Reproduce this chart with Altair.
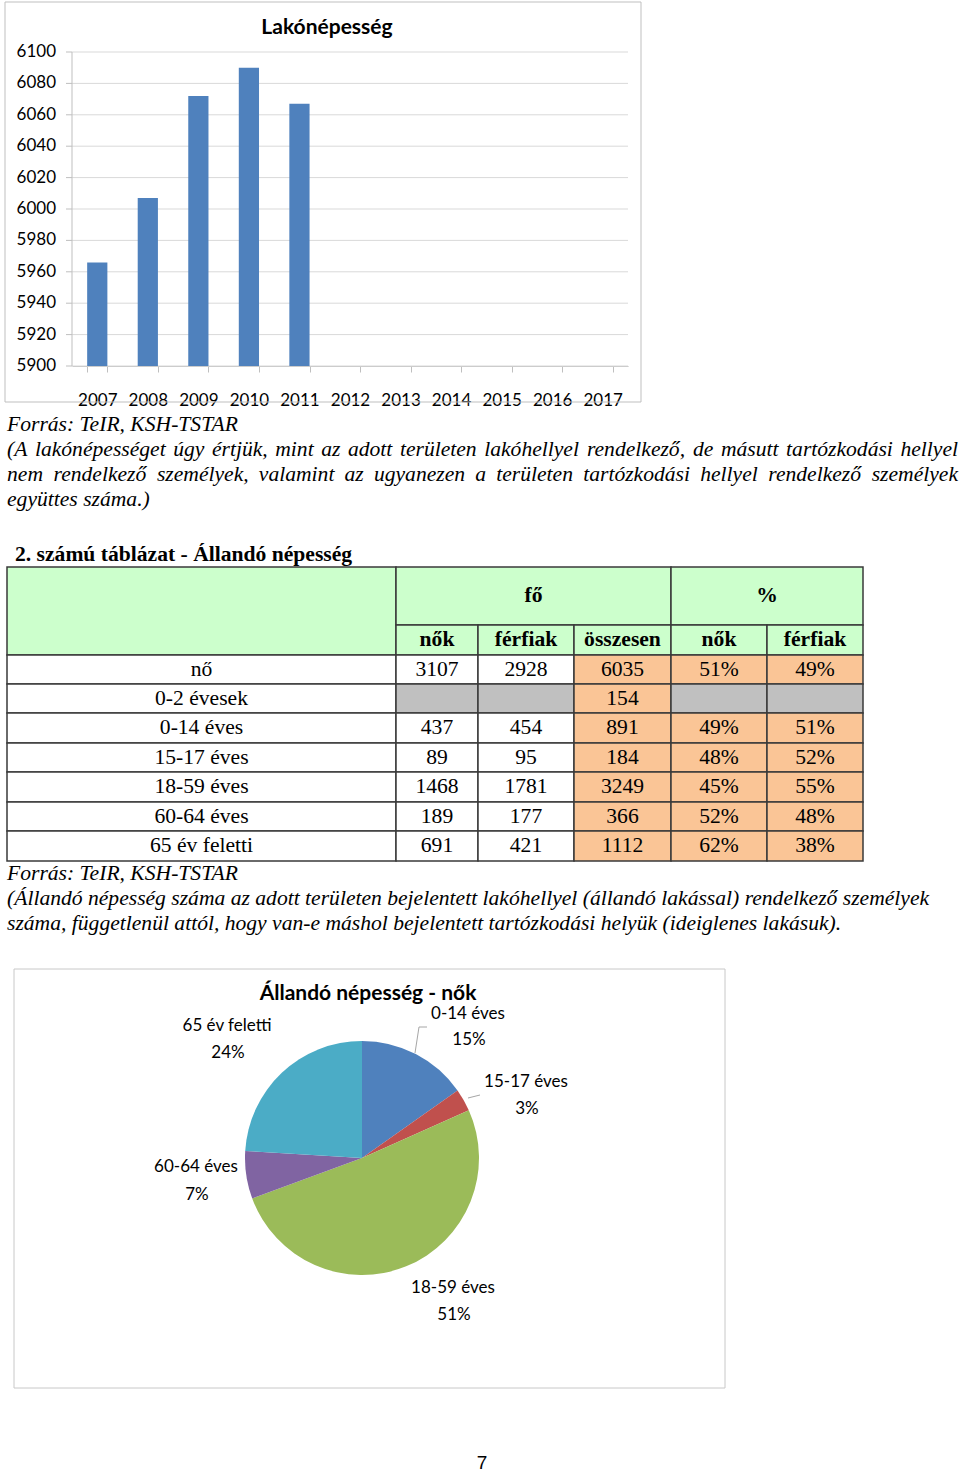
import altair as alt
import pandas as pd

# ---------------- data ----------------
years = ["2007", "2008", "2009", "2010", "2011", "2012", "2013", "2014", "2015", "2016", "2017"]
lako_years = ["2007", "2008", "2009", "2010", "2011"]
lako_values = [5966, 6007, 6072, 6090, 6067]
y_ticks = [5900, 5920, 5940, 5960, 5980, 6000, 6020, 6040, 6060, 6080, 6100]

table_rows = ["nő", "0-2 évesek", "0-14 éves", "15-17 éves", "18-59 éves", "60-64 éves", "65 év feletti"]
nok = [3107, None, 437, 89, 1468, 189, 691]
ferfiak = [2928, None, 454, 95, 1781, 177, 421]
osszesen = [6035, 154, 891, 184, 3249, 366, 1112]
nok_pct = [51, None, 49, 48, 45, 52, 62]
ferfiak_pct = [49, None, 51, 52, 55, 48, 38]
head_top = ["fő", "%"]
head_sub = ["nők", "férfiak", "összesen", "nők", "férfiak"]

pie_groups = ["0-14 éves", "15-17 éves", "18-59 éves", "60-64 éves", "65 év feletti"]
pie_values = [437, 89, 1468, 189, 691]
pie_colors = ["#4F81BD", "#C0504D", "#9BBB59", "#8064A2", "#4BACC6"]

bar_title = "Lakónépesség"
source_text = "Forrás: TeIR, KSH-TSTAR"
note1_lines = [
    "(A lakónépességet úgy értjük, mint az adott területen lakóhellyel rendelkező, de másutt tartózkodási hellyel",
    "nem rendelkező személyek, valamint az ugyanezen a területen tartózkodási hellyel rendelkező személyek",
    "együttes száma.)",
]
table_title = "2. számú táblázat - Állandó népesség"
note2_lines = [
    "(Állandó népesség száma az adott területen bejelentett lakóhellyel (állandó lakással) rendelkező személyek",
    "száma, függetlenül attól, hogy van-e máshol bejelentett tartózkodási helyük (ideiglenes lakásuk).",
]
pie_title = "Állandó népesség - nők"
page_number = "7"

# ---------------- layout / style ----------------
W, H = 960, 1472
SERIF = "Liberation Serif"
SANS = "Lato"
SZ = 21.6
GRAY = "#BFBFBF"

BAR_X = [72, 628]
BAR_Y = [366, 52]
COL_EDGES = [7, 396, 478, 574, 671, 767, 863]
ROW_EDGES = [567, 625, 655, 684, 713, 743, 772, 802, 831, 861]
PIE_CENTER = (362, 1158)
PIE_R = 117

# Times italic advance widths (per 1000 em) for justification
TI = {' ': 250, '(': 333, ')': 333, ',': 250, '-': 333, '.': 250, ':': 333,
      'A': 611, 'B': 611, 'C': 667, 'D': 722, 'E': 611, 'F': 611, 'G': 722, 'H': 722, 'I': 333,
      'J': 444, 'K': 667, 'L': 556, 'M': 833, 'N': 667, 'O': 722, 'P': 611, 'Q': 722, 'R': 611,
      'S': 500, 'T': 556, 'U': 722, 'V': 611, 'W': 833, 'X': 611, 'Y': 556, 'Z': 556,
      'a': 500, 'b': 500, 'c': 444, 'd': 500, 'e': 444, 'f': 278, 'g': 500, 'h': 500, 'i': 278,
      'j': 278, 'k': 444, 'l': 278, 'm': 722, 'n': 500, 'o': 500, 'p': 500, 'q': 500, 'r': 389,
      's': 389, 't': 278, 'u': 500, 'v': 444, 'w': 667, 'x': 444, 'y': 444, 'z': 389}
ACC = {'á': 'a', 'é': 'e', 'í': 'i', 'ó': 'o', 'ö': 'o', 'ő': 'o', 'ú': 'u', 'ü': 'u', 'ű': 'u',
       'Á': 'A', 'É': 'E', 'Ó': 'O', 'Ö': 'O', 'Ő': 'O', 'Ú': 'U', 'Ü': 'U', 'Ű': 'U', 'Í': 'I'}


def tw(s, size):
    return sum(TI.get(ACC.get(ch, ch), 500) for ch in s) * size / 1000.0


def justify(line, x0, x1, y, size):
    words = line.split(" ")
    widths = [tw(w, size) for w in words]
    gap = (x1 - x0 - sum(widths)) / (len(words) - 1)
    out, x = [], x0
    for w, wd in zip(words, widths):
        out.append((w, x + wd / 2.0, y))
        x += wd + gap
    return out


def text_layer(items, font, size, weight="normal", style="normal", align="center", color="#000000"):
    df = pd.DataFrame(items, columns=["t", "x", "y"])
    return alt.Chart(df).mark_text(
        font=font, fontSize=size, fontWeight=weight, fontStyle=style,
        align=align, baseline="middle", color=color
    ).encode(
        x=alt.X("x:Q", scale=None, axis=None),
        y=alt.Y("y:Q", scale=None, axis=None),
        text=alt.Text("t:N"),
    )


def frame(x0, y0, x1, y1, color):
    return alt.Chart(pd.DataFrame({"k": [0]})).mark_rect(
        filled=False, color=color, strokeWidth=1
    ).encode(x=alt.value(x0), x2=alt.value(x1), y=alt.value(y0), y2=alt.value(y1))


def seg(x0, y0, x1, y1, color):
    return alt.Chart(pd.DataFrame({"k": [0]})).mark_rule(color=color, strokeWidth=1).encode(
        x=alt.value(x0), x2=alt.value(x1), y=alt.value(y0), y2=alt.value(y1))


# ---------------- bar chart ----------------
xs = alt.Scale(domain=years, range=BAR_X, paddingInner=0.6, paddingOuter=0.3)
ys = alt.Scale(domain=[y_ticks[0], y_ticks[-1]], range=BAR_Y, nice=False, zero=False)
x_axis = alt.Axis(orient="bottom", offset=-(H - BAR_Y[0]), title=None, labelAngle=0,
                  labelFont=SANS, labelFontSize=17, labelColor="#000000", labelPadding=20,
                  tickBand="extent", tickSize=6, tickColor=GRAY, domainColor=GRAY,
                  grid=False, labelOverlap=False)

tick_df = pd.DataFrame({"v": y_ticks})
grid = alt.Chart(tick_df).mark_rule(color="#D9D9D9", strokeWidth=1).encode(
    y=alt.Y("v:Q", scale=ys, axis=None),
    x=alt.value(BAR_X[0]), x2=alt.value(BAR_X[1]),
)
y_ticks_marks = alt.Chart(tick_df).mark_rule(color=GRAY, strokeWidth=1).encode(
    y=alt.Y("v:Q", scale=ys, axis=None),
    x=alt.value(BAR_X[0] - 6), x2=alt.value(BAR_X[0]),
)
y_domain = alt.Chart(pd.DataFrame({"lo": [y_ticks[0]], "hi": [y_ticks[-1]]})).mark_rule(
    color=GRAY, strokeWidth=1
).encode(
    y=alt.Y("lo:Q", scale=ys, axis=None), y2="hi:Q", x=alt.value(BAR_X[0]),
)
y_labels = alt.Chart(tick_df).mark_text(
    font=SANS, fontSize=17, align="right", baseline="middle", color="#000000"
).encode(
    y=alt.Y("v:Q", scale=ys, axis=None),
    x=alt.value(BAR_X[0] - 16),
    text=alt.Text("v:Q", format="d"),
)
bars = alt.Chart(pd.DataFrame({"year": lako_years, "value": lako_values})).mark_bar(
    color="#4F81BD"
).encode(
    x=alt.X("year:N", scale=xs, axis=x_axis, sort=years),
    y=alt.Y("value:Q", scale=ys, axis=None),
    y2=alt.datum(y_ticks[0]),
)
bar_block = alt.layer(grid, y_domain, y_ticks_marks, y_labels, bars)

# ---------------- table ----------------
tx = alt.Scale(type="linear", domain=list(range(len(COL_EDGES))), range=COL_EDGES, nice=False, zero=False)
ty = alt.Scale(type="linear", domain=list(range(len(ROW_EDGES))), range=ROW_EDGES, nice=False, zero=False)


def idx_at(px, edges):
    for i in range(len(edges) - 1):
        if edges[i] <= px <= edges[i + 1]:
            return i + (px - edges[i]) / (edges[i + 1] - edges[i])
    return 0


cells = [dict(c0=0, c1=1, r0=0, r1=2, k="h"), dict(c0=1, c1=4, r0=0, r1=1, k="h"),
         dict(c0=4, c1=6, r0=0, r1=1, k="h")]
for c in range(1, 6):
    cells.append(dict(c0=c, c1=c + 1, r0=1, r1=2, k="h"))
body_text = []
for i, lab in enumerate(table_rows):
    r = 2 + i
    vals = [nok[i], ferfiak[i], osszesen[i], nok_pct[i], ferfiak_pct[i]]
    cells.append(dict(c0=0, c1=1, r0=r, r1=r + 1, k="w"))
    body_text.append(dict(t=lab, xi=0.5, yi=r + 0.5))
    for j, v in enumerate(vals):
        c = j + 1
        if v is None:
            kind = "g"
        else:
            kind = "o" if c >= 3 else "w"
            body_text.append(dict(t=f"{v}%" if c >= 4 else str(v), xi=c + 0.5, yi=r + 0.5))
        cells.append(dict(c0=c, c1=c + 1, r0=r, r1=r + 1, k=kind))

head_text = [dict(t=head_top[0], xi=idx_at((COL_EDGES[1] + COL_EDGES[4]) / 2.0, COL_EDGES), yi=0.5),
             dict(t=head_top[1], xi=idx_at((COL_EDGES[4] + COL_EDGES[6]) / 2.0, COL_EDGES), yi=0.5)]
for j, h in enumerate(head_sub):
    head_text.append(dict(t=h, xi=j + 1.5, yi=1.5))

cell_chart = alt.Chart(pd.DataFrame(cells)).mark_rect(stroke="#3A3A3A", strokeWidth=1.5).encode(
    x=alt.X("c0:Q", scale=tx, axis=None), x2="c1:Q",
    y=alt.Y("r0:Q", scale=ty, axis=None), y2="r1:Q",
    color=alt.Color("k:N", scale=alt.Scale(domain=["h", "w", "o", "g"],
                                           range=["#CCFFCC", "#FFFFFF", "#FAC596", "#C0C0C0"]),
                    legend=None),
)
body_chart = alt.Chart(pd.DataFrame(body_text)).mark_text(
    font=SERIF, fontSize=SZ, baseline="middle", align="center", color="#000000"
).encode(x=alt.X("xi:Q", scale=tx, axis=None), y=alt.Y("yi:Q", scale=ty, axis=None), text="t:N")
head_chart = alt.Chart(pd.DataFrame(head_text)).mark_text(
    font=SERIF, fontSize=SZ, fontWeight="bold", baseline="middle", align="center", color="#000000"
).encode(x=alt.X("xi:Q", scale=tx, axis=None), y=alt.Y("yi:Q", scale=ty, axis=None), text="t:N")
table_block = alt.layer(cell_chart, body_chart, head_chart)

# ---------------- pie ----------------
total = sum(pie_values)
pie_pct = [f"{round(v * 100.0 / total)}%" for v in pie_values]
pie = alt.Chart(pd.DataFrame({"g": pie_groups, "v": pie_values, "i": list(range(len(pie_values)))})).mark_arc(
    radius=PIE_R
).encode(
    theta=alt.Theta("v:Q", stack=True),
    color=alt.Color("g:N", scale=alt.Scale(domain=pie_groups, range=pie_colors), legend=None),
    order=alt.Order("i:Q"),
    x=alt.value(PIE_CENTER[0]), y=alt.value(PIE_CENTER[1]),
)
LABEL_POS = [((468, 1014), (469, 1040)), ((526, 1082), (527, 1109)), ((453, 1288), (454, 1315)),
             ((196, 1167), (197, 1195)), ((227, 1026), (228, 1053))]
pie_label_items = []
for g, p, (a, b) in zip(pie_groups, pie_pct, LABEL_POS):
    pie_label_items.append((g, a[0], a[1]))
    pie_label_items.append((p, b[0], b[1]))

# ---------------- text blocks ----------------
note1_items = justify(note1_lines[0], 7, 958, 450, SZ) + justify(note1_lines[1], 7, 958, 475, SZ)

layers = [
    frame(5, 2, 641, 402, GRAY),
    frame(14, 969, 725, 1388, "#C8C8C8"),
    bar_block,
    text_layer([(bar_title, 327, 28)], SANS, 21, weight="bold"),
    text_layer([(source_text, 7, 425), (note1_lines[2], 7, 500),
                (source_text, 7, 874), (note2_lines[0], 7, 899), (note2_lines[1], 7, 924)],
               SERIF, SZ, style="italic", align="left"),
    text_layer(note1_items, SERIF, SZ, style="italic", align="center"),
    text_layer([(table_title, 15, 555)], SERIF, SZ, weight="bold", align="left"),
    table_block,
    pie,
    seg(427, 1027, 419, 1027, "#A6A6A6"),
    seg(419, 1027, 415, 1053, "#A6A6A6"),
    seg(480, 1095, 468, 1098, "#A6A6A6"),
    text_layer([(pie_title, 368, 994)], SANS, 21, weight="bold"),
    text_layer(pie_label_items, SANS, 17),
    text_layer([(page_number, 482, 1463)], "Liberation Sans", 19),
]

chart = alt.layer(*layers).resolve_scale(
    x="independent", y="independent", color="independent"
).properties(
    width=W, height=H, padding=0, autosize=alt.AutoSizeParams(type="none"), background="white"
).configure_view(strokeWidth=0)

chart.save("out.html", embed_options={"renderer": "svg", "actions": False})
